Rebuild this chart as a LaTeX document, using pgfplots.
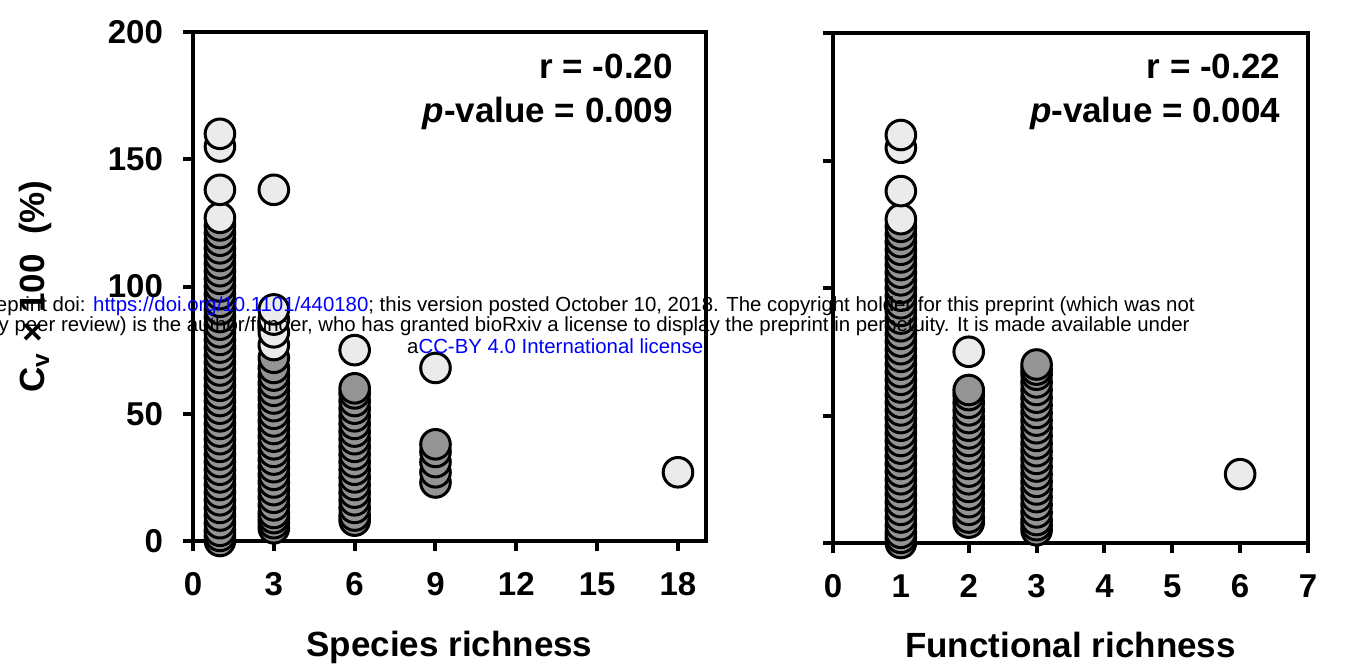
\documentclass[border=0pt]{standalone}
\usepackage{pgfplots}
\pgfplotsset{compat=1.18}
\usepackage{fontspec}
\setmainfont{Liberation Sans}
\begin{document}
\begin{tikzpicture}
\useasboundingbox (0pt,0pt) rectangle (679.5pt,335pt);
\pgfplotsset{
 myax/.style={
  scale only axis, anchor=south west,
  ymin=0,ymax=200, ytick={0,50,100,150,200},
  axis line style={line width=2pt},
  tick align=outside, major tick length=5pt,
  major tick style={black, line width=2pt},
  xtick pos=bottom, ytick pos=left,
  ticklabel style={font=\bfseries\fontsize{16.5}{18}\selectfont},
  xticklabel style={yshift=-7pt, text height=11.8pt, text depth=0pt},
  yticklabel style={xshift=-6.5pt},
  /pgf/number format/assume math mode=true,
  label style={font=\bfseries\fontsize{17.5}{20}\selectfont},
  clip=false,
 },
 mk/.style={only marks, mark=*, mark size=7.4pt, mark options={draw=black, line width=1.5pt, fill=black!8}},
 mkd/.style={only marks, mark=*, mark size=7.4pt, mark options={draw=black, line width=1.5pt, fill=black!42}},
}
\begin{axis}[myax, at={(96.5pt,64.5pt)}, width=256.5pt, height=254.5pt,
  xmin=0, xmax=19.04, xtick={0,3,6,9,12,15,18},
  xlabel={Species richness}, ylabel={C\textsubscript{v} × 100~~(\%)},
  xlabel style={at={(axis description cs:0.5,-0.21)},anchor=center},
  ylabel style={at={(axis description cs:-0.308,0.5)},anchor=center}]
\addplot[mkd] coordinates {(1,0) (1,2) (1,4) (1,7) (1,10) (1,13) (1,16) (1,19) (1,22) (1,25) (1,28) (1,31) (1,34) (1,37) (1,40) (1,43) (1,46) (1,49) (1,52) (1,55) (1,58) (1,61) (1,64) (1,67) (1,70) (1,73) (1,76) (1,79) (1,82) (1,85) (1,88) (1,91) (1,94) (1,97) (1,100) (1,103) (1,106) (1,109) (1,112) (1,115) (1,118) (1,121) (1,124)};
\addplot[mk] coordinates {(1,127) (1,138) (1,155) (1,160)};
\addplot[mkd] coordinates {(3,5) (3,7) (3,9) (3,11) (3,14) (3,17) (3,20) (3,23) (3,26) (3,29) (3,32) (3,35) (3,38) (3,41) (3,44) (3,47) (3,50) (3,53) (3,56) (3,59) (3,62) (3,65) (3,68) (3,72)};
\addplot[mk] coordinates {(3,77) (3,82) (3,87) (3,91) (3,138)};
\addplot[mkd] coordinates {(6,8) (6,10) (6,13) (6,16) (6,19) (6,22) (6,25) (6,28) (6,31) (6,34) (6,37) (6,40) (6,43) (6,46) (6,49) (6,52) (6,55) (6,58) (6,60)};
\addplot[mk] coordinates {(6,75)};
\addplot[mkd] coordinates {(9,23) (9,27) (9,31) (9,35) (9,38)};
\addplot[mk] coordinates {(9,68) (18,27)};
\node[anchor=base east, font=\bfseries\fontsize{17.5}{20}\selectfont] at (axis description cs:0.949,0.908) {r = -0.20};
\node[anchor=base east, font=\bfseries\fontsize{17.5}{20}\selectfont] at (axis description cs:0.949,0.823) {\textit{p}-value = 0.009};
\end{axis}
\begin{axis}[myax, at={(416.5pt,63.5pt)}, width=237.5pt, height=255pt,
  xmin=0, xmax=7, xtick={0,1,2,3,4,5,6,7}, yticklabels={},
  xlabel={Functional richness},
  xlabel style={at={(axis description cs:0.5,-0.2)},anchor=center}]
\addplot[mkd] coordinates {(1,0) (1,2) (1,4) (1,7) (1,10) (1,13) (1,16) (1,19) (1,22) (1,25) (1,28) (1,31) (1,34) (1,37) (1,40) (1,43) (1,46) (1,49) (1,52) (1,55) (1,58) (1,61) (1,64) (1,67) (1,70) (1,73) (1,76) (1,79) (1,82) (1,85) (1,88) (1,91) (1,94) (1,97) (1,100) (1,103) (1,106) (1,109) (1,112) (1,115) (1,118) (1,121) (1,124)};
\addplot[mk] coordinates {(1,127) (1,138) (1,155) (1,160)};
\addplot[mkd] coordinates {(2,8) (2,10) (2,13) (2,16) (2,19) (2,22) (2,25) (2,28) (2,31) (2,34) (2,37) (2,40) (2,43) (2,46) (2,49) (2,52) (2,55) (2,58) (2,60)};
\addplot[mk] coordinates {(2,75)};
\addplot[mkd] coordinates {(3,5) (3,7) (3,9) (3,12) (3,15) (3,18) (3,21) (3,24) (3,27) (3,30) (3,33) (3,36) (3,39) (3,42) (3,45) (3,48) (3,51) (3,54) (3,57) (3,60) (3,63) (3,66) (3,68) (3,70)};
\addplot[mk] coordinates {(6,27)};
\node[anchor=base east, font=\bfseries\fontsize{17.5}{20}\selectfont] at (axis description cs:0.956,0.910) {r = -0.22};
\node[anchor=base east, font=\bfseries\fontsize{17.5}{20}\selectfont] at (axis description cs:0.956,0.825) {\textit{p}-value = 0.004};
\end{axis}
\node[anchor=base, font=\fontsize{10.2}{11}\selectfont] at (275pt,179pt) {bioRxiv preprint doi: \textcolor{blue}{https://doi.org/10.1101/440180}; this version posted October 10, 2018. The copyright holder for this preprint (which was not};
\node[anchor=base, font=\fontsize{10.2}{11}\selectfont] at (275pt,169pt) {certified by peer review) is the author/funder, who has granted bioRxiv a license to display the preprint in perpetuity. It is made available under};
\node[anchor=base, font=\fontsize{10.2}{11}\selectfont] at (279pt,158pt) {a\textcolor{blue}{CC-BY 4.0 International license}.};
\end{tikzpicture}
\end{document}
